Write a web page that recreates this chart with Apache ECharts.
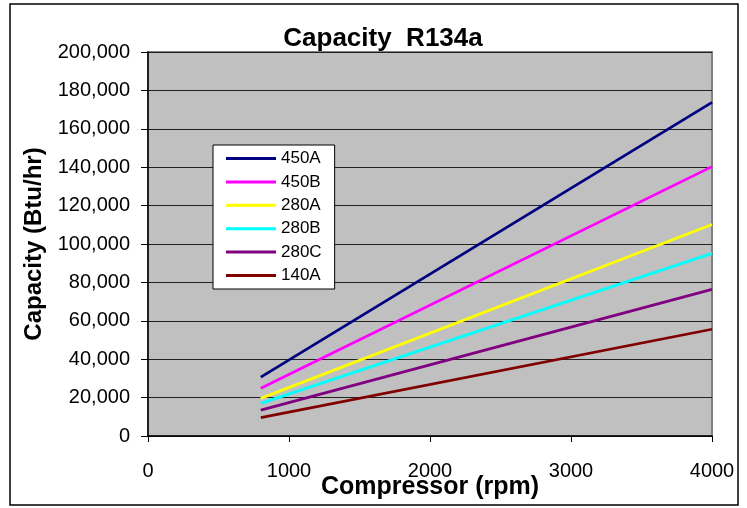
<!DOCTYPE html>
<html>
<head>
<meta charset="utf-8">
<script src="https://cdn.jsdelivr.net/npm/echarts@6/dist/echarts.min.js"></script>
<style>
html,body{margin:0;padding:0;background:#fff;}
#c{width:747px;height:508px;}
</style>
</head>
<body>
<div id="c"></div>
<script>
var rpm = [800, 4000];
var seriesNames = ['450A', '450B', '280A', '280B', '280C', '140A'];
var cap450A = [30700, 173800];
var cap450B = [24900, 140300];
var cap280A = [19600, 110200];
var cap280B = [17000, 95100];
var cap280C = [13500, 76400];
var cap140A = [9600, 55600];
var xTicks = [0, 1000, 2000, 3000, 4000];
var yTicks = [0, 20000, 40000, 60000, 80000, 100000, 120000, 140000, 160000, 180000, 200000];

var values = [cap450A, cap450B, cap280A, cap280B, cap280C, cap140A];
var colors = ['#000080', '#ff00ff', '#ffff00', '#00ffff', '#800080', '#800000'];
var FONT = 'Liberation Sans, Arial, sans-serif';

function pairs(xs, ys) { return xs.map(function (x, i) { return [x, ys[i]]; }); }
function fmt(v) { return v.toString().replace(/\B(?=(\d{3})+(?!\d))/g, ','); }

var chart = echarts.init(document.getElementById('c'), null, {renderer: 'canvas'});
chart.setOption({
  animation: false,
  backgroundColor: '#ffffff',
  textStyle: {fontFamily: FONT},
  title: {
    text: 'Capacity  R134a',
    left: 378, top: 21, textAlign: 'center',
    textStyle: {fontFamily: FONT, fontSize: 26, fontWeight: 'bold', color: '#000'}
  },
  graphic: [{
    type: 'rect', z: 100, silent: true,
    shape: {x: 10, y: 4, width: 728, height: 501},
    style: {fill: 'none', stroke: '#000', lineWidth: 1.5}
  }],
  grid: {
    left: 148, right: 35, top: 52, bottom: 72,
    outerBoundsMode: 'none', containLabel: false,
    show: true, backgroundColor: '#c0c0c0', borderColor: '#808080', borderWidth: 2
  },
  legend: {
    orient: 'vertical', left: 213, top: 145,
    data: seriesNames, icon: 'rect',
    backgroundColor: '#ffffff', borderColor: '#000', borderWidth: 1,
    padding: [5, 13, 5, 13], itemGap: 6.4, itemWidth: 50, itemHeight: 3,
    textStyle: {fontFamily: FONT, fontSize: 17, color: '#000', lineHeight: 17}
  },
  xAxis: {
    type: 'value', min: 0, max: 4000, interval: 1000,
    name: 'Compressor (rpm)', nameLocation: 'middle', nameGap: 39,
    nameMoveOverlap: false,
    nameTextStyle: {fontFamily: FONT, fontSize: 25, fontWeight: 'bold', color: '#000'},
    axisLine: {show: true, onZero: false, lineStyle: {color: '#000', width: 1.5}},
    axisTick: {show: true, inside: false, length: 6, lineStyle: {color: '#000'}},
    axisLabel: {fontFamily: FONT, fontSize: 20, color: '#000', margin: 25,
      formatter: function (v) { return xTicks.indexOf(v) >= 0 ? String(v) : ''; }},
    splitLine: {show: false}
  },
  yAxis: {
    type: 'value', min: 0, max: 200000, interval: 20000,
    name: 'Capacity (Btu/hr)', nameLocation: 'middle', nameGap: 102,
    nameMoveOverlap: false,
    nameTextStyle: {fontFamily: FONT, fontSize: 24, fontWeight: 'bold', color: '#000'},
    axisLine: {show: true, lineStyle: {color: '#000', width: 1.5}},
    axisTick: {show: true, inside: false, length: 7, lineStyle: {color: '#000'}},
    axisLabel: {fontFamily: FONT, fontSize: 20, color: '#000', margin: 18,
      formatter: function (v) { return yTicks.indexOf(v) >= 0 ? fmt(v) : ''; }},
    splitLine: {show: true, lineStyle: {color: '#222', width: 1}}
  },
  series: seriesNames.map(function (n, i) {
    return {
      name: n, type: 'line', data: pairs(rpm, values[i]),
      symbol: 'none', showSymbol: false,
      lineStyle: {color: colors[i], width: 2.75},
      itemStyle: {color: colors[i]}
    };
  })
});
</script>
</body>
</html>
